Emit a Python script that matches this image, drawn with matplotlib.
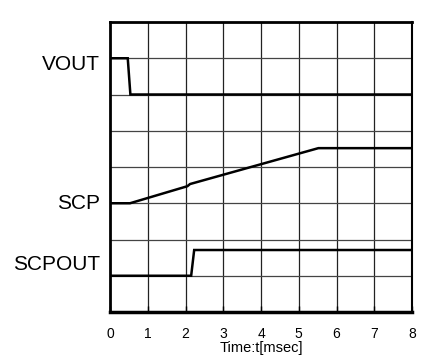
import matplotlib
matplotlib.use("Agg")
import matplotlib.pyplot as plt
import matplotlib.transforms as mtransforms

plt.rcParams['font.family'] = ['Liberation Sans', 'DejaVu Sans']

# Time axis ticks [msec]
time_ticks = [0, 1, 2, 3, 4, 5, 6, 7, 8]

# Waveforms (time in msec, level in grid divisions)
vout_t = [0, 0.47, 0.54, 8]
vout_v = [7, 7, 6, 6]

scp_t = [0, 0.53, 2.05, 2.12, 5.52, 8]
scp_v = [3, 3, 3.47, 3.53, 4.52, 4.52]

scpout_t = [0, 2.15, 2.23, 8]
scpout_v = [1, 1, 1.71, 1.71]

signal_names = ["VOUT", "SCP", "SCPOUT"]
label_levels = [6.84, 3.0, 1.32]

fig = plt.figure(figsize=(4.25, 3.63), dpi=100)
ax = fig.add_axes([110 / 425, 1 - 312 / 363, 302 / 425, 290 / 363])

ax.set_xlim(0, 8)
ax.set_ylim(0, 8)

# Grid
for x in range(1, 8):
    ax.axvline(x, color='#222222', lw=0.9, zorder=1)
for y in range(1, 8):
    ax.axhline(y, color='#444444', lw=0.9, zorder=1)

for t, v in [(vout_t, vout_v), (scp_t, scp_v), (scpout_t, scpout_v)]:
    ax.plot(t, v, color='black', lw=1.8, zorder=3, solid_joinstyle='miter')

ax.set_xticks(time_ticks)
ax.set_xticklabels([str(t) for t in time_ticks], fontsize=10)
ax.tick_params(axis='x', direction='in', length=4, width=1, pad=11)
ax.set_yticks([])
ax.set_xlabel("Time:t[msec]", fontsize=10.5, labelpad=0)

ax.spines['top'].set_linewidth(2)
ax.spines['left'].set_linewidth(2)
ax.spines['bottom'].set_linewidth(2.5)
ax.spines['right'].set_linewidth(1.5)

trans = mtransforms.offset_copy(ax.get_yaxis_transform(), fig=fig, x=-10, y=0, units='dots')
for name, lvl in zip(signal_names, label_levels):
    ax.text(0, lvl, name, transform=trans, ha='right', va='center', fontsize=15)

fig.savefig("out.png", dpi=100)
